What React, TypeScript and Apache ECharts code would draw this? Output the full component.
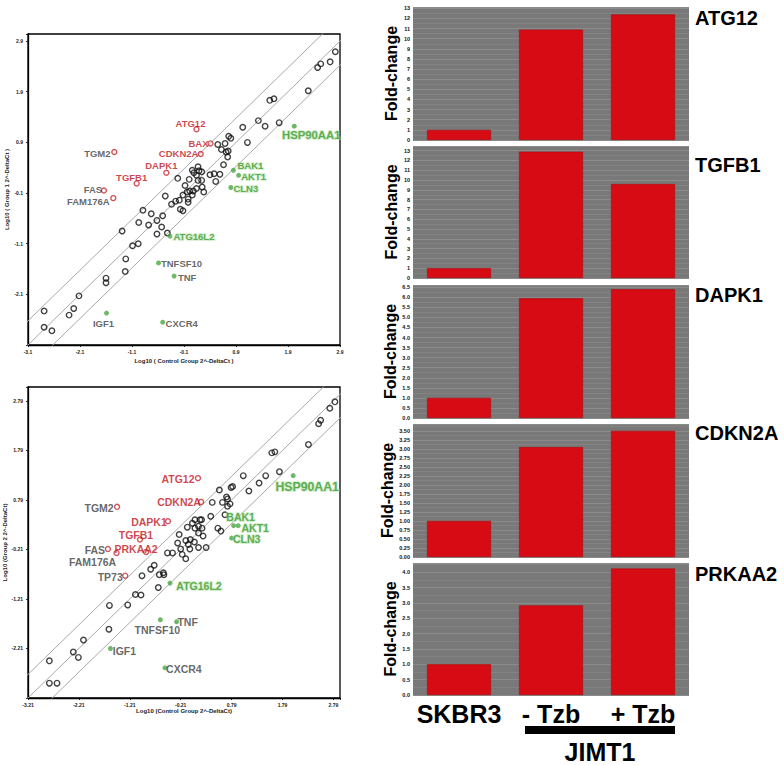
import React, { useEffect, useRef } from 'react';
import * as echarts from 'echarts';

// ---------------- Scatter 1: Group 1 vs Control ----------------
const s1Black: [number, number][] = [
  [2.81, 2.69], [2.71, 2.49], [2.53, 2.45], [2.47, 2.38], [1.55, 1.73], [1.63, 1.76], [2.29, 1.92],
  [1.33, 1.33], [1.46, 1.22], [1.73, 1.29], [1.03, 1.2], [1.12, 0.9], [0.76, 1.02], [0.8, 0.98],
  [0.55, 0.86], [0.69, 0.88], [0.62, 0.76], [0.71, 0.71], [0.75, 0.73], [0.74, 0.61], [0.66, 0.46],
  [0.48, 0.28], [0.59, 0.27], [0.51, 0.13], [0.4, 0.26], [0.17, 0.42], [0.19, 0.34], [0.24, 0.32],
  [0.06, 0.35], [0.09, 0.3], [0.14, 0.25], [0.17, 0.15], [0.24, 0.15], [0.25, 0.02], [0.28, -0.08],
  [0.14, -0.01], [0.08, -0.06], [0.01, -0.06], [-0.04, -0.08], [0.06, -0.14], [-0.02, -0.22],
  [-0.02, -0.28], [-0.08, 0.05], [0.0, 0.17], [-0.22, 0.19], [-0.12, -0.14], [-0.19, -0.24],
  [-0.26, -0.26], [-0.34, -0.32], [-0.46, -0.16], [-0.17, -0.42], [-0.12, -0.45], [-0.51, -0.55],
  [-0.62, -0.64], [-0.73, -0.51], [-0.89, -0.44], [-0.78, -0.73], [-0.53, -0.77], [-0.62, -0.91],
  [-0.42, -0.89], [-0.97, -0.68], [-1.29, -0.85], [-1.09, -1.14], [-0.98, -1.1], [-1.22, -1.4],
  [-1.23, -1.65], [-1.6, -1.78], [-1.6, -1.87], [-2.12, -2.13], [-2.22, -2.38], [-2.31, -2.51],
  [-2.79, -2.43], [-2.79, -2.75], [-2.64, -2.82],
];
const s1UpGenes = ['ATG12', 'BAX', 'CDKN2A', 'DAPK1', 'TGFB1', 'TGM2', 'FAS', 'FAM176A'];
const s1UpX = [0.14, 0.41, 0.22, -0.44, -1.01, -1.44, -1.64, -1.46];
const s1UpY = [1.16, 0.88, 0.67, 0.3, 0.09, 0.71, -0.05, -0.2];
const s1DownGenes = ['HSP90AA1', 'BAK1', 'AKT1', 'CLN3', 'ATG16L2', 'TNFSF10', 'TNF', 'IGF1', 'CXCR4'];
const s1DownX = [2.02, 0.85, 0.95, 0.8, -0.37, -0.59, -0.29, -1.59, -0.51];
const s1DownY = [1.22, 0.35, 0.25, 0.01, -0.95, -1.48, -1.74, -2.47, -2.65];
const s1XTickLabels = ['-3.1', '-2.1', '-1.1', '-0.1', '0.9', '1.9', '2.9'];
const s1YTickLabels = ['', '-2.1', '-1.1', '-0.1', '0.9', '1.9', '2.9'];

// ---------------- Scatter 2: Group 2 vs Control ----------------
const s2Black: [number, number][] = [
  [2.82, 2.77], [2.72, 2.64], [2.54, 2.4], [2.5, 2.33], [2.3, 1.91], [1.58, 1.74], [1.64, 1.76],
  [1.73, 1.36], [1.46, 1.28], [1.33, 1.13], [1.02, 1.28], [1.13, 0.97], [0.81, 1.06], [0.78, 1.04],
  [0.55, 0.99], [0.69, 0.85], [0.71, 0.81], [0.61, 0.74], [0.76, 0.71], [0.71, 0.66], [0.41, 0.74],
  [0.38, 0.46], [0.66, 0.49], [0.52, 0.22], [0.58, 0.16], [0.2, 0.39], [0.17, 0.39], [0.07, 0.39],
  [0.02, 0.32], [-0.08, 0.24], [0.07, 0.22], [0.14, 0.26], [0.21, 0.22], [0.23, 0.06], [0.14, 0.12],
  [0.06, -0.06], [-0.02, -0.01], [-0.11, -0.03], [-0.06, -0.11], [-0.03, -0.2], [0.14, -0.17],
  [0.29, -0.17], [-0.21, -0.2], [-0.24, 0.09], [-0.27, -0.08], [-0.18, -0.31], [-0.11, -0.4],
  [-0.47, -0.28], [-0.37, -0.28], [-0.73, -0.53], [-0.8, -0.61], [-0.63, -0.72], [-0.55, -0.68],
  [-0.54, -0.72], [-0.65, -0.98], [-0.97, -0.74], [-0.99, -1.13], [-1.1, -1.12], [-1.25, -1.33],
  [-1.61, -1.34], [-1.62, -1.82], [-2.12, -2.04], [-2.32, -2.28], [-2.22, -2.39], [-2.79, -2.46],
  [-2.79, -2.91], [-2.64, -2.91],
];
const s2UpGenes = ['ATG12', 'CDKN2A', 'DAPK1', 'TGFB1', 'PRKAA2', 'TGM2', 'FAS', 'FAM176A', 'TP73'];
const s2UpX = [0.13, 0.19, -0.46, -1.01, -0.89, -1.46, -1.64, -1.47, -1.3];
const s2UpY = [1.23, 0.75, 0.36, -0.01, -0.26, 0.65, -0.2, -0.28, -0.74];
const s2DownGenes = ['HSP90AA1', 'BAK1', 'AKT1', 'CLN3', 'ATG16L2', 'TNFSF10', 'TNF', 'IGF1', 'CXCR4'];
const s2DownX = [2.0, 0.83, 0.92, 0.79, -0.42, -0.61, -0.29, -1.59, -0.52];
const s2DownY = [1.28, 0.27, 0.27, 0.02, -0.89, -1.63, -1.67, -2.21, -2.6];
const s2XTickLabels = ['-3.21', '-2.21', '-1.21', '-0.21', '0.79', '1.79', '2.79'];
const s2YTickLabels = ['', '-2.21', '-1.21', '-0.21', '0.79', '1.79', '2.79'];

// fold-change boundary lines (log10 offsets)
const boundaryOffsets = [-0.477, 0, 0.477];

// ---------------- Bar panels ----------------
const barCategories = ['SKBR3', '- Tzb', '+ Tzb'];
const barGenes = ['ATG12', 'TGFB1', 'DAPK1', 'CDKN2A', 'PRKAA2'];
const atg12Fold = [1.0, 10.9, 12.4];
const tgfb1Fold = [1.0, 12.9, 9.6];
const dapk1Fold = [1.0, 5.95, 6.4];
const cdkn2aFold = [1.0, 3.05, 3.5];
const prkaa2Fold = [1.0, 2.92, 4.12];
const barValues = [atg12Fold, tgfb1Fold, dapk1Fold, cdkn2aFold, prkaa2Fold];
const barAxisMax = [13.13, 13.48, 6.61, 3.69, 4.3];
const barAxisInterval = [1, 1, 0.5, 0.25, 0.5];
const barAxisDecimals = [0, 0, 1, 2, 1];

// ---------------- layout / styles ----------------
const grayLabelGenes = ['TGM2', 'FAS', 'FAM176A', 'TP73', 'TNFSF10', 'TNF', 'IGF1', 'CXCR4'];
const s1LabelOffsets: Record<string, [number, number]> = {
  ATG12: [-6, -6], BAX: [-12, 0], CDKN2A: [-22, -1], DAPK1: [-5, -7], TGFB1: [-5, -6],
  TGM2: [-17, 1], FAS: [-11, -1], FAM176A: [-25, 3], HSP90AA1: [17, 9], BAK1: [17, -5],
  AKT1: [15, 1], CLN3: [15, 1], ATG16L2: [24, 0], TNFSF10: [23, 1], TNF: [13, 1],
  IGF1: [-3, 10], CXCR4: [19, 1],
};
const s2LabelOffsets: Record<string, [number, number]> = {
  ATG12: [-20, 1], CDKN2A: [-22, 0], DAPK1: [-19, 1], TGFB1: [-4, -5], PRKAA2: [-10, -3],
  TGM2: [-18, 1], FAS: [-13, 1], FAM176A: [-24, 9], TP73: [-15, 1], HSP90AA1: [14, 11],
  BAK1: [7, -9], AKT1: [17, 2.5], CLN3: [15, 1], ATG16L2: [29, 3], TNFSF10: [-3, 10],
  TNF: [11, 0], IGF1: [14, 3], CXCR4: [19, 1],
};
const barGridTops = [7, 146, 285, 424, 563];
const barGridHeights = [133, 132, 133, 133, 132];
const barTitleY = [17.5, 165, 295, 433, 574];

const FONT = '"Liberation Sans", Arial, sans-serif';

function toneStyle(tone: string) {
  if (tone === 'red') return { color: '#c3161d', fontWeight: 'bold' };
  if (tone === 'gray') return { color: '#404040', fontWeight: 'bold' };
  return {
    color: '#3b9a2f',
    fontWeight: 'bold',
    textBorderColor: 'rgba(175,225,165,0.6)',
    textBorderWidth: 2,
  };
}

function labeledPoints(
  genes: string[], xs: number[], ys: number[], offsets: Record<string, [number, number]>,
  isUp: boolean, baseSize: number,
) {
  return genes.map((g, i) => {
    const tone = grayLabelGenes.includes(g) ? 'gray' : isUp ? 'red' : 'green';
    const size = g === 'HSP90AA1' ? baseSize + 1.8 : baseSize;
    return {
      value: [xs[i], ys[i]],
      name: g,
      label: {
        show: true,
        formatter: g,
        position: 'inside',
        offset: offsets[g],
        fontSize: size,
        fontFamily: FONT,
        ...toneStyle(tone),
      },
    };
  });
}

function tickFormatter(labels: string[]) {
  return (v: number) => {
    const r = Math.round(v);
    if (Math.abs(v - r) > 1e-6) return '';
    return labels[r] ?? '';
  };
}

function dataAxis(grid: number, min: number, max: number) {
  return { type: 'value', gridIndex: grid, min, max, show: false, splitLine: { show: false } };
}

function labelAxis(
  dim: 'x' | 'y', grid: number, span: number, labels: string[], name: string, nameGap: number,
) {
  return {
    type: 'value',
    gridIndex: grid,
    position: dim === 'x' ? 'bottom' : 'left',
    min: 0,
    max: span,
    interval: 1,
    axisLine: { show: true, onZero: false, lineStyle: { color: '#000', width: 1.3 } },
    axisTick: { show: true, length: 2, lineStyle: { color: '#000', width: 0.8 } },
    axisLabel: {
      show: true,
      fontSize: 5,
      fontWeight: 'bold',
      color: '#222',
      fontFamily: FONT,
      margin: dim === 'x' ? 4 : 5,
      formatter: tickFormatter(labels),
    },
    splitLine: { show: false },
    name,
    nameLocation: 'middle',
    nameGap,
    nameTextStyle: { fontSize: 6, fontWeight: 'bold', color: '#222', fontFamily: FONT },
  };
}

function scatterSeries(
  grid: number, black: [number, number][], upGenes: string[], upX: number[], upY: number[],
  downGenes: string[], downX: number[], downY: number[], offsets: Record<string, [number, number]>,
  baseSize: number,
) {
  const axisIdx = grid * 2;
  const lines = boundaryOffsets.map((off) => ({
    type: 'line',
    xAxisIndex: axisIdx,
    yAxisIndex: axisIdx,
    data: [[-5, -5 + off], [5, 5 + off]],
    symbol: 'none',
    clip: true,
    silent: true,
    lineStyle: { color: '#a9a9a9', width: 1 },
    z: 1,
  }));
  return [
    ...lines,
    {
      type: 'scatter',
      xAxisIndex: axisIdx,
      yAxisIndex: axisIdx,
      data: black,
      symbol: 'circle',
      symbolSize: 5.5,
      silent: true,
      itemStyle: { color: 'rgba(255,255,255,0)', borderColor: '#111', borderWidth: 1.4 },
      z: 3,
    },
    {
      type: 'scatter',
      xAxisIndex: axisIdx,
      yAxisIndex: axisIdx,
      data: labeledPoints(upGenes, upX, upY, offsets, true, baseSize),
      symbol: 'circle',
      symbolSize: 5,
      silent: true,
      itemStyle: { color: 'rgba(255,255,255,0)', borderColor: '#c8282e', borderWidth: 1.4 },
      z: 4,
    },
    {
      type: 'scatter',
      xAxisIndex: axisIdx,
      yAxisIndex: axisIdx,
      data: labeledPoints(downGenes, downX, downY, offsets, false, baseSize),
      symbol: 'circle',
      symbolSize: 5,
      silent: true,
      itemStyle: { color: '#4aa843' },
      z: 4,
    },
  ];
}

export default function App() {
  const ref = useRef<HTMLDivElement>(null);

  useEffect(() => {
    if (!ref.current) return;
    const chart = echarts.init(ref.current, undefined, { renderer: 'svg' });

    const scatterGrids = [
      { left: 28, top: 34, width: 312, height: 311 },
      { left: 28, top: 387, width: 312, height: 311 },
    ].map((g) => ({ ...g, show: true, borderColor: '#000', borderWidth: 1.3, backgroundColor: '#fff' }));

    const barGrids = barGridTops.map((top, i) => ({
      left: 413,
      width: 276,
      top,
      height: barGridHeights[i],
      show: true,
      backgroundColor: '#797979',
      borderWidth: 0,
    }));

    const xAxes: any[] = [
      dataAxis(0, -3.1, 2.9),
      labelAxis('x', 0, 6, s1XTickLabels, 'Log10 ( Control Group 2^-DeltaCt )', 13),
      dataAxis(1, -3.21, 2.92),
      labelAxis('x', 1, 6.13, s2XTickLabels, 'Log10 (Control Group 2^-DeltaCt)', 8),
    ];
    const yAxes: any[] = [
      dataAxis(0, -3.1, 3.04),
      labelAxis('y', 0, 6.14, s1YTickLabels, 'Log10 ( Group 1 2^-DeltaCt )', 17),
      dataAxis(1, -3.21, 3.07),
      labelAxis('y', 1, 6.28, s2YTickLabels, 'Log10 (Group 2 2^-DeltaCt)', 17),
    ];

    const barSeries: any[] = [];
    barValues.forEach((vals, i) => {
      const isLast = i === barValues.length - 1;
      xAxes.push({
        type: 'category',
        gridIndex: 2 + i,
        data: barCategories,
        axisLine: { show: false },
        axisTick: { show: false },
        axisLabel: isLast
          ? { show: true, interval: 0, fontSize: 25, fontWeight: 'bold', color: '#000', fontFamily: FONT, margin: 6 }
          : { show: false },
      });
      const dec = barAxisDecimals[i];
      yAxes.push({
        type: 'value',
        gridIndex: 2 + i,
        min: 0,
        max: barAxisMax[i],
        interval: barAxisInterval[i],
        axisLine: { show: false },
        axisTick: { show: false },
        axisLabel: {
          show: true,
          fontSize: 5.5,
          fontWeight: 'bold',
          color: '#111',
          fontFamily: FONT,
          margin: 3,
          showMaxLabel: false,
          formatter: (v: number) => v.toFixed(dec),
        },
        splitLine: { show: true, lineStyle: { color: '#8b8b8b', width: 1 } },
        minorTick: { show: false, splitNumber: 2 },
        minorSplitLine: { show: true, lineStyle: { color: '#838383', width: 1 } },
        name: 'Fold-change',
        nameLocation: 'middle',
        nameGap: 12,
        nameTextStyle: { fontSize: 16, fontWeight: 'bold', color: '#000', fontFamily: FONT },
      });
      barSeries.push({
        type: 'bar',
        xAxisIndex: 4 + i,
        yAxisIndex: 4 + i,
        data: vals,
        barWidth: 64,
        silent: true,
        itemStyle: { color: '#d60b13', borderColor: '#b3080e', borderWidth: 0.6 },
        z: 3,
      });
    });

    const graphic: any[] = barGenes.map((g, i) => ({
      type: 'text',
      x: 695,
      y: barTitleY[i],
      silent: true,
      style: {
        text: g,
        fill: '#000',
        font: `bold 20px ${FONT}`,
        verticalAlign: 'middle',
        align: 'left',
      },
    }));
    graphic.push({
      type: 'rect',
      shape: { x: 525, y: 726, width: 150, height: 8 },
      style: { fill: '#000' },
      silent: true,
    });
    graphic.push({
      type: 'text',
      x: 600,
      y: 752,
      silent: true,
      style: {
        text: 'JIMT1',
        fill: '#000',
        font: `bold 25px ${FONT}`,
        align: 'center',
        verticalAlign: 'middle',
      },
    });

    chart.setOption({
      animation: false,
      backgroundColor: '#fff',
      textStyle: { fontFamily: FONT },
      grid: [...scatterGrids, ...barGrids],
      xAxis: xAxes,
      yAxis: yAxes,
      series: [
        ...scatterSeries(0, s1Black, s1UpGenes, s1UpX, s1UpY, s1DownGenes, s1DownX, s1DownY, s1LabelOffsets, 9.5),
        ...scatterSeries(1, s2Black, s2UpGenes, s2UpX, s2UpY, s2DownGenes, s2DownX, s2DownY, s2LabelOffsets, 10.5),
        ...barSeries,
      ],
      graphic,
    });

    return () => chart.dispose();
  }, []);

  return (
    <div
      ref={ref}
      style={{ position: 'absolute', left: 0, top: 0, width: 784, height: 765, background: '#fff' }}
    />
  );
}
